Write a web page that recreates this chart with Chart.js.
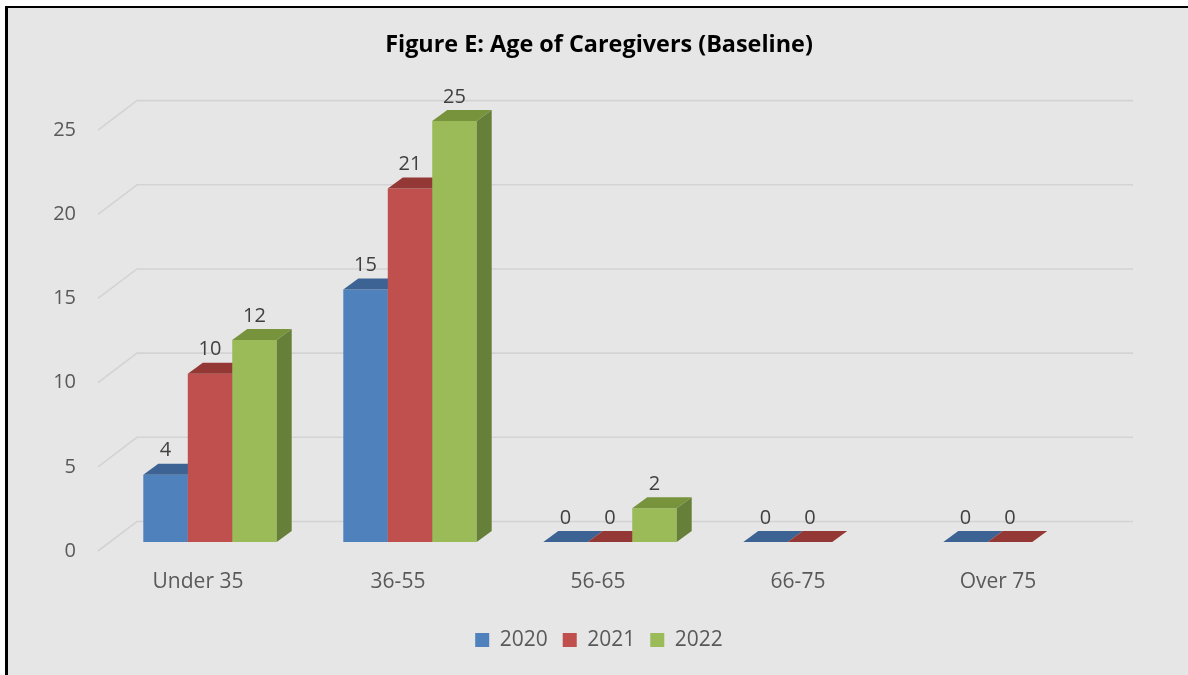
<!DOCTYPE html>
<html>
<head>
<meta charset="utf-8">
<title>Figure E: Age of Caregivers (Baseline)</title>
<script src="https://cdn.jsdelivr.net/npm/chart.js@4.4.1/dist/chart.umd.min.js"></script>
<style>
  body { margin: 0; background: #ffffff; overflow: hidden; }
  #frame {
    position: absolute; left: 5px; top: 6px; width: 1220px; height: 700px;
    border-top: 2.5px solid #000; border-left: 3px solid #000; background: #e6e6e6;
  }
  #myChart { position: absolute; left: 0; top: 0; }
</style>
</head>
<body>
<div id="frame"></div>
<canvas id="myChart" width="1188" height="675"></canvas>
<script>
'use strict';

// chart data
let ageGroups = ['Under 35', '36-55', '56-65', '66-75', 'Over 75'];
let seriesNames = ['2020', '2021', '2022'];
let values2020 = [4, 15, 0, 0, 0];
let values2021 = [10, 21, 0, 0, 0];
let values2022 = [12, 25, 2, null, null];
let yTicks = [0, 5, 10, 15, 20, 25];

// colours: front, top, side
let frontColors = ['#4f81bd', '#c0504d', '#9bbb59'];
let topColors = ['#3c6393', '#943836', '#77933c'];
let sideColors = ['#345782', '#83302e', '#667f39'];

let fontName = "'Open Sans', 'Noto Sans', sans-serif";

// 3d offsets (pixels)
let depthX = 15, depthY = 11;      // bar depth
let wallX = 27, wallY = 20.5;      // back wall
let floorX = 12, floorY = 9;       // front edge of floor

function poly(ctx, pts, color){
    ctx.beginPath();
    ctx.moveTo(pts[0][0], pts[0][1]);
    for (let i = 1; i < pts.length; i++){
        ctx.lineTo(pts[i][0], pts[i][1]);
    }
    ctx.closePath();
    ctx.fillStyle = color;
    ctx.fill();
}

let bars3d = {
    id: 'bars3d',
    beforeDatasetsDraw(chart){
        let ctx = chart.ctx;
        let area = chart.chartArea;
        let yScale = chart.scales.y;
        ctx.save();

        // gridlines on the back wall + diagonal to the floor edge
        ctx.strokeStyle = '#d3d3d3';
        ctx.lineWidth = 1.6;
        for (let v of yTicks){
            let y = yScale.getPixelForValue(v);
            ctx.beginPath();
            ctx.moveTo(area.left - floorX, y + floorY);
            ctx.lineTo(area.left + wallX, y - wallY);
            ctx.lineTo(area.right + wallX - 4, y - wallY);
            ctx.stroke();
        }

        // bars, one category at a time so the sides overlap right
        for (let j = 0; j < ageGroups.length; j++){
            for (let i = 0; i < chart.data.datasets.length; i++){
                let val = chart.data.datasets[i].data[j];
                if (val === null) continue;
                let bar = chart.getDatasetMeta(i).data[j];
                let p = bar.getProps(['x', 'y', 'base', 'width'], true);
                let x1 = p.x - p.width / 2;
                let x2 = p.x + p.width / 2;
                let top = p.y;
                let base = p.base;
                if (base - top > 0.5){
                    poly(ctx, [[x1, top], [x2, top], [x2, base], [x1, base]], frontColors[i]);
                    poly(ctx, [[x2, top], [x2 + depthX, top - depthY], [x2 + depthX, base - depthY], [x2, base]], sideColors[i]);
                }
                poly(ctx, [[x1, top], [x2, top], [x2 + depthX, top - depthY], [x1 + depthX, top - depthY]], topColors[i]);
            }
        }

        // value labels
        ctx.fillStyle = '#404040';
        ctx.font = '20px ' + fontName;
        ctx.textAlign = 'center';
        ctx.textBaseline = 'middle';
        for (let i = 0; i < chart.data.datasets.length; i++){
            let meta = chart.getDatasetMeta(i);
            chart.data.datasets[i].data.forEach(function(val, j){
                if (val === null) return;
                let p = meta.data[j].getProps(['x', 'y'], true);
                ctx.fillText(String(val), p.x, p.y - 24);
            });
        }
        ctx.restore();
        return false;
    }
};

let chardata = {
    type: 'bar',
    data: {
        labels: ageGroups,
        datasets: [
            { label: seriesNames[0], data: values2020, backgroundColor: frontColors[0] },
            { label: seriesNames[1], data: values2021, backgroundColor: frontColors[1] },
            { label: seriesNames[2], data: values2022, backgroundColor: frontColors[2] }
        ]
    },
    options: {
        responsive: false,
        animation: false,
        datasets: { bar: { barPercentage: 1, categoryPercentage: 0.667 } },
        layout: { padding: { left: 10, right: 0, top: 0, bottom: 14.5 } },
        scales: {
            x: {
                grid: { display: false, drawTicks: false },
                border: { display: false },
                ticks: {
                    color: '#595959',
                    font: { family: fontName, size: 21 },
                    padding: 27.4,
                    labelOffset: -12
                },
                afterFit: function(scale){ scale.height = 72.5; }
            },
            y: {
                min: 0,
                max: 25,
                grid: { display: false, drawTicks: false },
                border: { display: false },
                afterBuildTicks: function(scale){
                    scale.ticks = yTicks.map(v => ({ value: v }));
                },
                ticks: {
                    color: '#595959',
                    font: { family: fontName, size: 20 },
                    padding: 34,
                    labelOffset: 9
                },
                afterFit: function(scale){ scale.width = 100; }
            },
            // empty axis on the right, only keeps room for the back wall
            yRight: {
                position: 'right',
                grid: { display: false, drawTicks: false },
                border: { display: false },
                ticks: { display: false },
                afterFit: function(scale){ scale.width = 78; }
            }
        },
        plugins: {
            title: {
                display: true,
                text: 'Figure E: Age of Caregivers (Baseline)',
                color: '#000000',
                font: { family: fontName, size: 23.4, weight: 'bold' },
                padding: { top: 31, bottom: 62 }
            },
            legend: {
                position: 'bottom',
                labels: {
                    boxWidth: 14,
                    boxHeight: 14,
                    padding: 15,
                    color: '#595959',
                    font: { family: fontName, size: 21 }
                }
            },
            tooltip: { enabled: false }
        }
    },
    plugins: [bars3d]
};

let ctx = document.getElementById('myChart').getContext('2d');
let myChart = new Chart(ctx, chardata);
</script>
</body>
</html>
